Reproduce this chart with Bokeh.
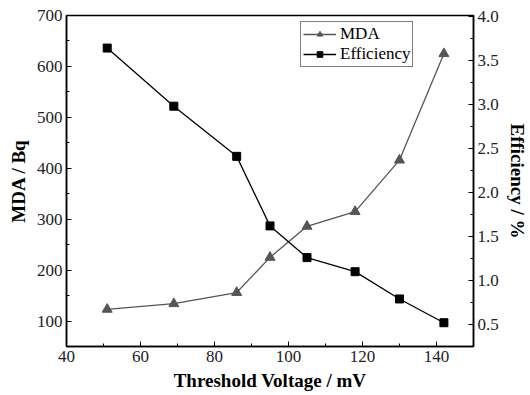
from bokeh.plotting import figure
from bokeh.models import LinearAxis, Range1d, Legend, LegendItem, FixedTicker
from bokeh.embed import file_html
from bokeh.resources import INLINE

voltage = [51, 69, 86, 95, 105, 118, 130, 142]
mda = [123, 134, 156, 225, 286, 315, 416, 625]
efficiency = [3.64, 2.98, 2.41, 1.62, 1.26, 1.10, 0.79, 0.52]

x_ticks = [40, 60, 80, 100, 120, 140]
y_ticks = [100, 200, 300, 400, 500, 600, 700]
y2_ticks = [0.5, 1.0, 1.5, 2.0, 2.5, 3.0, 3.5, 4.0]

FONT = "'Liberation Serif', 'Times New Roman', 'DejaVu Serif', serif"
MDA_COLOR = "#555555"
EFF_COLOR = "#000000"

p = figure(width=530, height=395, output_backend="svg", toolbar_location=None,
           x_range=Range1d(40, 150), y_range=Range1d(50, 700),
           min_border_left=66, min_border_right=53, min_border_top=15, min_border_bottom=49)
p.extra_y_ranges = {"eff": Range1d(0.25, 4.01)}

p.xgrid.visible = False
p.ygrid.visible = False
p.outline_line_color = "black"
p.outline_line_width = 1.5
p.background_fill_color = "white"
p.border_fill_color = "white"

r_mda_line = p.line(voltage, mda, line_color=MDA_COLOR, line_width=1.3)
r_mda_pts = p.scatter(voltage, mda, marker="triangle", size=10, fill_color=MDA_COLOR, line_color=MDA_COLOR)
r_eff_line = p.line(voltage, efficiency, line_color=EFF_COLOR, line_width=1.3, y_range_name="eff")
r_eff_pts = p.scatter(voltage, efficiency, marker="square", size=8, fill_color=EFF_COLOR, line_color=EFF_COLOR, y_range_name="eff")

right = LinearAxis(y_range_name="eff", axis_label="Efficiency / %")
p.add_layout(right, "right")

for ax in (p.xaxis[0], p.yaxis[0], right):
    ax.axis_line_color = "black"
    ax.axis_line_width = 1.5
    ax.major_tick_in = 5
    ax.major_tick_out = 0
    ax.minor_tick_in = 3
    ax.minor_tick_out = 0
    ax.major_tick_line_color = "black"
    ax.minor_tick_line_color = "black"
    ax.major_label_text_font = FONT
    ax.major_label_text_font_size = "17px"
    ax.major_label_text_color = "#222222"
    ax.axis_label_text_font = FONT
    ax.axis_label_text_font_size = "19px"
    ax.axis_label_text_font_style = "bold"
    ax.axis_label_text_color = "black"
    ax.major_label_standoff = 4
    ax.axis_label_standoff = 5

p.xaxis[0].ticker = FixedTicker(ticks=x_ticks, minor_ticks=[50, 70, 90, 110, 130, 150])
p.yaxis[0].ticker = FixedTicker(ticks=y_ticks, minor_ticks=[150, 250, 350, 450, 550, 650])
right.ticker = FixedTicker(ticks=y2_ticks, minor_ticks=[0.75, 1.25, 1.75, 2.25, 2.75, 3.25, 3.75])
p.xaxis[0].axis_label = "Threshold Voltage / mV"
p.yaxis[0].axis_label = "MDA / Bq"
right.major_label_overrides = {v: f"{v:.1f}" for v in y2_ticks}

legend = Legend(items=[
    LegendItem(label="MDA", renderers=[r_mda_line, r_mda_pts]),
    LegendItem(label="Efficiency", renderers=[r_eff_line, r_eff_pts]),
], location=(234, 279))
legend.label_text_font = FONT
legend.label_text_font_size = "17px"
legend.label_text_color = "black"
legend.label_height = 14
legend.glyph_height = 14
legend.glyph_width = 33
legend.label_standoff = 4
legend.spacing = 0
legend.padding = 2
legend.margin = 0
legend.border_line_color = "black"
legend.border_line_width = 1
legend.background_fill_alpha = 1.0
p.add_layout(legend, "center")

open("out.html", "w").write(file_html(p, INLINE))
